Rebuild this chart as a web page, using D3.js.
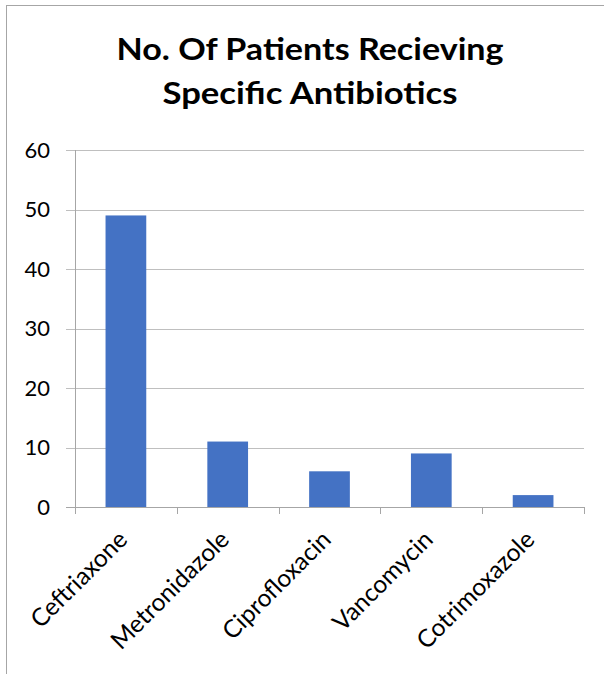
<!DOCTYPE html>
<html><head><meta charset="utf-8">
<script src="https://cdn.jsdelivr.net/npm/d3@7"></script>
<style>body{margin:0;background:#fff}svg{display:block}text{font-family:Lato,"Open Sans",sans-serif}</style>
</head><body><svg id="c" width="609" height="674"></svg>
<script>
const categories = ["Ceftriaxone","Metronidazole","Ciprofloxacin","Vancomycin","Cotrimoxazole"];
const values = [49, 11, 6, 9, 2];
const yTicks = [0,10,20,30,40,50,60];
const titleLines = ["No. Of Patients Recieving","Specific Antibiotics"];

(function(){
const svg = d3.select("#c");
svg.append("line").attr("x1",6).attr("x2",604).attr("y1",5.5).attr("y2",5.5).attr("stroke","#a6a6a6").attr("stroke-width",1);
svg.append("line").attr("x1",6.5).attr("x2",6.5).attr("y1",5).attr("y2",674).attr("stroke","#a6a6a6").attr("stroke-width",1);

const pl=75, pr=584, pt=150, pb=507;
const x = d3.scaleBand().domain(categories).range([pl,pr]).paddingInner(0.6).paddingOuter(0.3);
const y = d3.scaleLinear().domain([0,60]).range([pb,pt]);

svg.append("g").selectAll("line").data(yTicks).join("line")
  .attr("x1",pl-9).attr("x2",pr).attr("y1",d=>Math.round(y(d))+0.5).attr("y2",d=>Math.round(y(d))+0.5)
  .attr("stroke",d=>d===0?"#a6a6a6":"#bfbfbf").attr("stroke-width",1);
svg.append("line").attr("x1",pl+0.5).attr("x2",pl+0.5).attr("y1",pt).attr("y2",pb+7).attr("stroke","#a6a6a6");
svg.append("g").selectAll("text").data(yTicks).join("text")
  .attr("x",pl-25).attr("y",d=>y(d)).attr("dy","0.36em").attr("text-anchor","end")
  .attr("font-size",22).attr("fill","#000").text(d=>d);
const step = x.step();
const bounds = d3.range(categories.length+1).map(i=>pl+i*step);
svg.append("g").selectAll("line").data(bounds).join("line")
  .attr("x1",d=>Math.round(d)+0.5).attr("x2",d=>Math.round(d)+0.5).attr("y1",pb).attr("y2",pb+7)
  .attr("stroke","#a6a6a6");
svg.append("g").selectAll("rect").data(values).join("rect")
  .attr("x",(d,i)=>x(categories[i])).attr("width",x.bandwidth())
  .attr("y",d=>y(d)).attr("height",d=>y(0)-y(d)).attr("fill","#4472c4");
svg.append("g").selectAll("text").data(categories).join("text")
  .attr("transform",d=>`translate(${x(d)+x.bandwidth()/2+3},${pb+34}) rotate(-45)`)
  .attr("text-anchor","end").attr("font-size",24.5).attr("fill","#000").text(d=>d);
const titleW = [387, 295];
svg.append("g").selectAll("text").data(titleLines).join("text")
  .attr("x",310).attr("y",(d,i)=>60+i*44).attr("text-anchor","middle")
  .attr("font-size",31).attr("font-weight","bold").attr("fill","#000")
  .attr("textLength",(d,i)=>titleW[i]).attr("lengthAdjust","spacingAndGlyphs").text(d=>d);
})();
</script></body></html>
